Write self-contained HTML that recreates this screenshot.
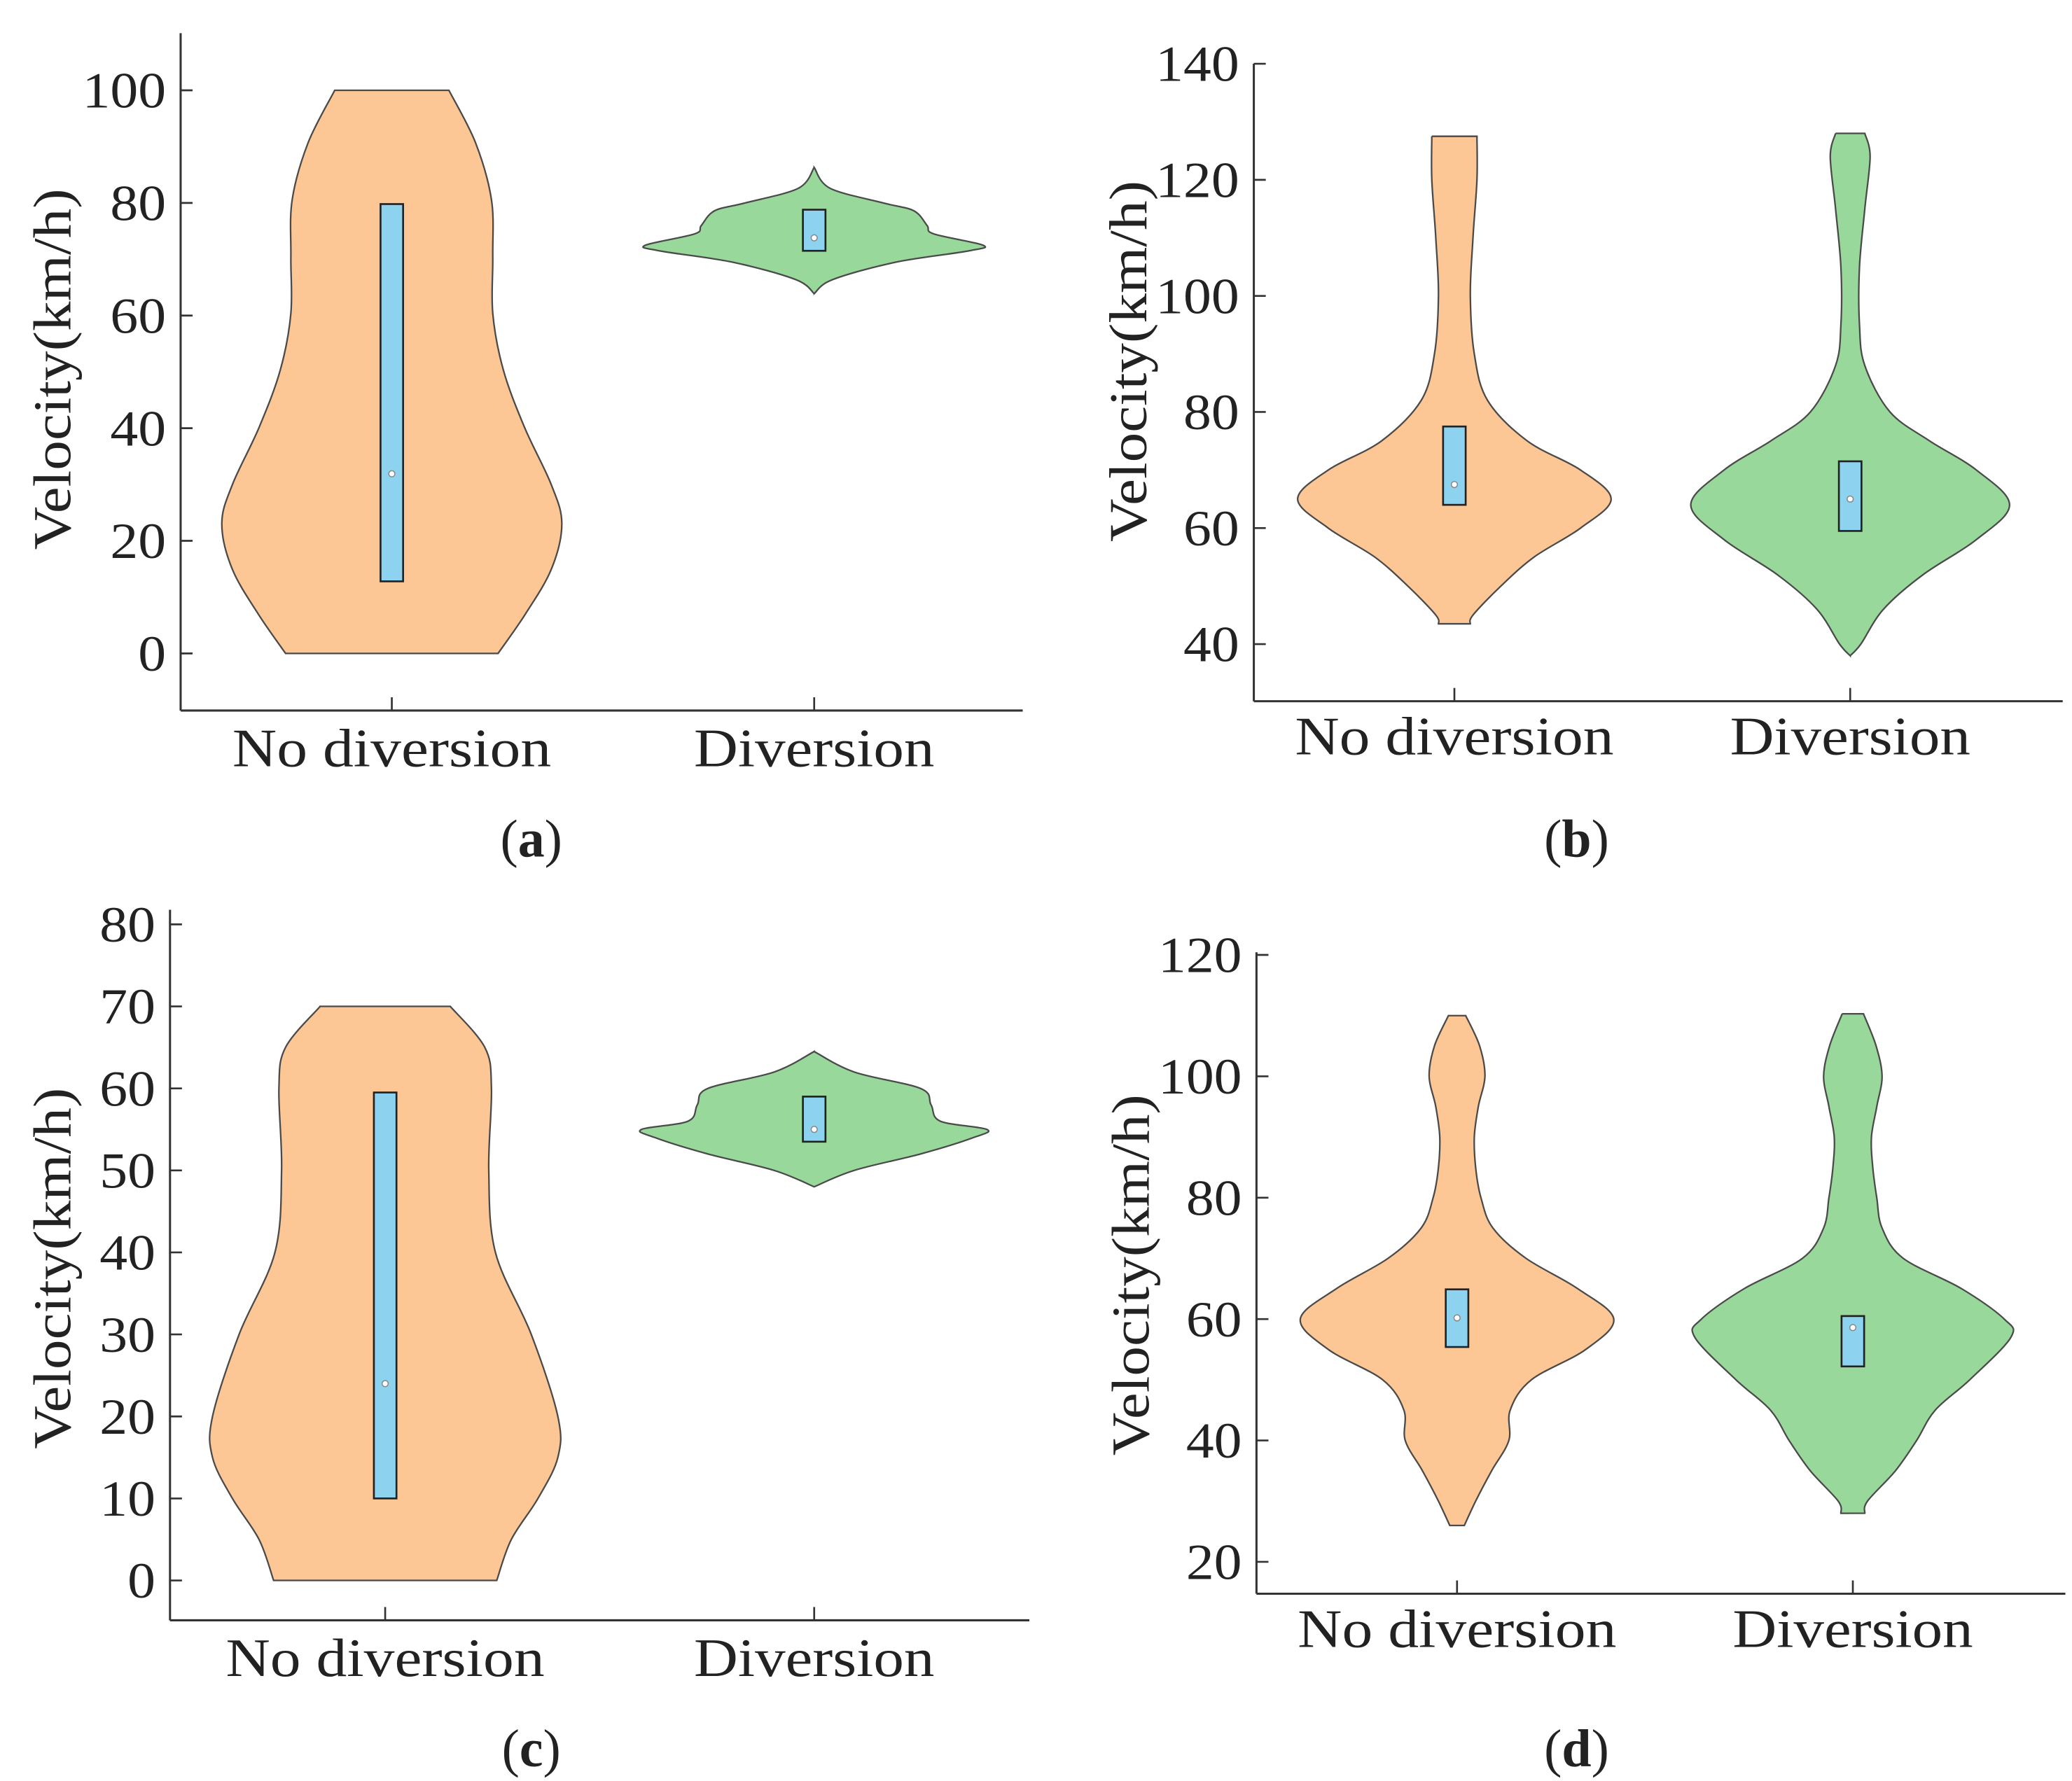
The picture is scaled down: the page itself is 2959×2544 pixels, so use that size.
<!DOCTYPE html>
<html><head><meta charset="utf-8"><style>
html,body{margin:0;padding:0;background:#fff}
svg{display:block}
text{font-family:"Liberation Serif",serif;fill:#222}
</style></head><body>
<svg id="chart" width="2959" height="2544" viewBox="0 0 1560 1341" preserveAspectRatio="none" xmlns="http://www.w3.org/2000/svg"></svg>
<script>
// ---- data ----
const categories = ["No diversion","Diversion"];
const panelLabels = ["a","b","c","d"];
const ticksA = [0,20,40,60,80,100];
const ticksB = [40,60,80,100,120,140];
const ticksC = [0,10,20,30,40,50,60,70,80];
const ticksD = [20,40,60,80,100,120];
// violin density profiles: [velocity, relative half-width]
const aNoDiv = [[100,43],[90.7,63],[80.6,75],[70.5,76],[60.4,76],[50.3,84],[40.1,100],[30,120],[23,128],[14.9,120],[6.8,100],[0,80]];
const aDiv = [[86.3,0],[82.6,12],[80,52],[78.6,75],[76,85],[74.5,90],[72.5,127],[71.5,117],[69.5,62],[66.4,14],[63.9,0]];
const bNoDiv = [[127.5,17],[120,17],[110,14],[100,12],[90,15],[82,25],[75,55],[70,95],[65,118],[60,95],[55,60],[50,35],[45,14],[43.5,12]];
const bDiv = [[128,11],[124,15],[115,11],[105,7],[95,7],[88,11],[80,30],[75,60],[70,95],[64,120],[58,95],[52,55],[46,25],[40,8],[38,0]];
const cNoDiv = [[70,49],[65,75],[60,80],[50,78],[40,83],[30,110],[20,130],[15,130],[10,115],[5,95],[0,84]];
const cDiv = [[64.5,0],[62,30],[60,80],[58,88],[56,95],[55,130],[54,120],[52,80],[50,30],[48,0]];
const dNoDiv = [[110,6.5],[105,17],[100,21],[95,16],[90,13],[85,14],[80,18],[75,27],[70,52],[65,91],[60,118],[55,97],[50,56],[45,40],[40,39],[35,26],[30,14],[26,5.5]];
const dDiv = [[110.3,8],[105,17.5],[100,22],[95,18],[90,14],[85,15],[80,18],[75,22],[70,38],[65,82],[60,114],[57,119],[50,88],[45,62],[40,48],[35,32],[30,11],[28,9]];
// box stats: [q1, q3, median]
const boxA = [[12.8,79.8,31.9],[71.5,78.8,73.8]];
const boxB = [[64,77.5,67.5],[59.5,71.5,65]];
const boxC = [[10,59.5,24],[53.5,59,55]];
const boxD = [[55.4,64.9,60.2],[52.2,60.5,58.6]];

const NS="http://www.w3.org/2000/svg";
const svg=document.getElementById('chart');
function mk(tag,attrs,parent){const e=document.createElementNS(NS,tag);for(const k in attrs)e.setAttribute(k,attrs[k]);(parent||svg).appendChild(e);return e;}

const panels=[
 {key:"a",ax:136,top:25,bottom:535,right:770,ticks:ticksA,t0:492,t1:68,cats:[295,613],viol:[aNoDiv,aDiv],box:boxA,ttl:[40,278],catY:577,lab:[400,645]},
 {key:"b",ax:944,top:48,bottom:528,right:1553,ticks:ticksB,t0:485,t1:48,cats:[1095,1393],viol:[bNoDiv,bDiv],box:boxB,ttl:[850,272],catY:568,lab:[1187,645]},
 {key:"c",ax:128,top:685,bottom:1220,right:775,ticks:ticksC,t0:1190,t1:696,cats:[290,613],viol:[cNoDiv,cDiv],box:boxC,ttl:[40,955],catY:1262,lab:[400,1330]},
 {key:"d",ax:946,top:717,bottom:1200,right:1555,ticks:ticksD,t0:1176,t1:719,cats:[1097,1395],viol:[dNoDiv,dDiv],box:boxD,ttl:[852,960],catY:1240,lab:[1187,1330]}
];
const fills=["#FCC795","#99D89B"];
const catWidths=[240,181];

function smooth(pts){
  let d="";
  for(let i=0;i<pts.length-1;i++){
    const p0=pts[Math.max(i-1,0)],p1=pts[i],p2=pts[i+1],p3=pts[Math.min(i+2,pts.length-1)];
    const c1=[p1[0]+(p2[0]-p0[0])/6,p1[1]+(p2[1]-p0[1])/6];
    const c2=[p2[0]-(p3[0]-p1[0])/6,p2[1]-(p3[1]-p1[1])/6];
    d+=` C${c1[0].toFixed(1)},${c1[1].toFixed(1)} ${c2[0].toFixed(1)},${c2[1].toFixed(1)} ${p2[0].toFixed(1)},${p2[1].toFixed(1)}`;
  }
  return d;
}

panels.forEach(p=>{
  const g=mk('g',{});
  
  
  const vmin=p.ticks[0],vmax=p.ticks[p.ticks.length-1];
  const y=v=>p.t0-(v-vmin)*(p.t0-p.t1)/(vmax-vmin);
  p.viol.forEach((prof,ci)=>{
    const cx=p.cats[ci];
    const R=prof.map(q=>[cx+q[1],y(q[0])]);
    const L=prof.slice().reverse().map(q=>[cx-q[1],y(q[0])]);
    let d=`M${cx-prof[0][1]},${y(prof[0][0])} L${R[0][0]},${R[0][1]}`+smooth(R)+` L${L[0][0]},${L[0][1]}`+smooth(L)+" Z";
    const path=mk('path',{d:d,fill:fills[ci],stroke:"#4a4a4a","stroke-width":1.2},g);
    
    
    const b=p.box[ci];
    const r=mk('rect',{x:cx-8.5,y:y(b[1]),width:17,height:y(b[0])-y(b[1]),fill:"#8DD3F0",stroke:"#222","stroke-width":1.4},g);
    
    
    const m=mk('circle',{cx:cx,cy:y(b[2]),r:2.3,fill:"#fff",stroke:"#888","stroke-width":0.8},g);
    
    
  });
  const ya=mk('line',{x1:p.ax,y1:p.top,x2:p.ax,y2:p.bottom,stroke:"#333","stroke-width":1.6},g);
  
  
  const xa=mk('line',{x1:p.ax,y1:p.bottom,x2:p.right,y2:p.bottom,stroke:"#333","stroke-width":1.6},g);
  
  
  p.ticks.forEach(t=>{
    mk('line',{x1:p.ax,y1:y(t),x2:p.ax+9,y2:y(t),stroke:"#333","stroke-width":1.4},g);
    const s=String(t);
    const tx=mk('text',{x:p.ax-11,y:y(t)+13,"text-anchor":"end","font-size":38,textLength:s.length*21,lengthAdjust:"spacingAndGlyphs"},g);
    tx.textContent=s;
    
    
  });
  p.cats.forEach((cx,ci)=>{
    mk('line',{x1:cx,y1:p.bottom,x2:cx,y2:p.bottom-10,stroke:"#333","stroke-width":1.4},g);
    const tx=mk('text',{x:cx,y:p.catY,"text-anchor":"middle","font-size":41,textLength:catWidths[ci],lengthAdjust:"spacingAndGlyphs"},g);
    tx.textContent=categories[ci];
    
    
  });
  const tt=mk('text',{x:p.ttl[0],y:p.ttl[1],"text-anchor":"middle","font-size":40,textLength:272,lengthAdjust:"spacingAndGlyphs",transform:`rotate(-90 ${p.ttl[0]} ${p.ttl[1]}) translate(0 13)`},g);
  tt.textContent="Velocity(km/h)";
  
  
  const lb=mk('text',{x:p.lab[0],y:p.lab[1],"text-anchor":"middle","font-size":40},g);
  lb.innerHTML='(<tspan font-weight="bold">'+p.key+'</tspan>)';
  
  
});
</script>
</body></html>
